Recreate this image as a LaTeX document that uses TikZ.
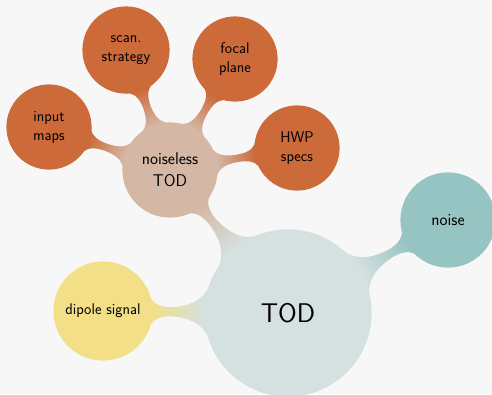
\documentclass[tikz,border=0pt]{standalone}
\usetikzlibrary{mindmap}
\definecolor{pagegrey}{HTML}{F7F7F7}
\definecolor{todgrey}{HTML}{D5E0E0}
\definecolor{noiseteal}{HTML}{96C4C2}
\definecolor{dipoleyellow}{HTML}{F3DF88}
\definecolor{cleantan}{HTML}{D4B8A5}
\definecolor{inputorange}{HTML}{CC6A3A}
\newcommand{\bubbletext}{\fontsize{15.5}{19}\selectfont}
\newcommand{\midtext}{\fontsize{17}{22}\selectfont}
\newcommand{\roottext}{\fontsize{27}{30}\selectfont}

\begin{document}
\begin{tikzpicture}[x=1pt,y=-1pt,mindmap,font=\sffamily\bubbletext,
  bubble/.style={concept,concept color=#1,text=black,inner sep=0pt,text width=,align=center},
  rootbubble/.style={bubble=todgrey,minimum size=166pt,font=\sffamily\roottext},
  midbubble/.style={bubble=#1,minimum size=94pt},
  leafbubble/.style={bubble=inputorange,minimum size=84pt}]
\fill[pagegrey] (0,0) rectangle (492,394);
\useasboundingbox (0,0) rectangle (492,394);
\node[rootbubble] (tod) at (288,313) {TOD};
\node[midbubble=noiseteal,font=\sffamily\midtext] (noise) at (448,220) {noise};
\node[midbubble=dipoleyellow,minimum size=98pt] (dipole) at (103,311) {dipole signal};
\node[midbubble=cleantan,font=\sffamily\midtext] (clean) at (170,170) {noiseless\\TOD};
\node[leafbubble] (maps) at (49,127) {input\\maps};
\node[leafbubble,minimum size=86pt] (scan) at (126,50) {scan.\\strategy};
\node[leafbubble] (focal) at (235,59) {focal\\plane};
\node[leafbubble] (hwp) at (297,148) {HWP\\specs};
\path (tod) to[circle connection bar switch color=from (todgrey) to (cleantan)] (clean);
\path (tod) to[circle connection bar switch color=from (todgrey) to (noiseteal)] (noise);
\path (tod) to[circle connection bar switch color=from (todgrey) to (dipoleyellow)] (dipole);
\path (clean) to[circle connection bar switch color=from (cleantan) to (inputorange)] (maps);
\path (clean) to[circle connection bar switch color=from (cleantan) to (inputorange)] (scan);
\path (clean) to[circle connection bar switch color=from (cleantan) to (inputorange)] (focal);
\path (clean) to[circle connection bar switch color=from (cleantan) to (inputorange)] (hwp);
\end{tikzpicture}
\end{document}
